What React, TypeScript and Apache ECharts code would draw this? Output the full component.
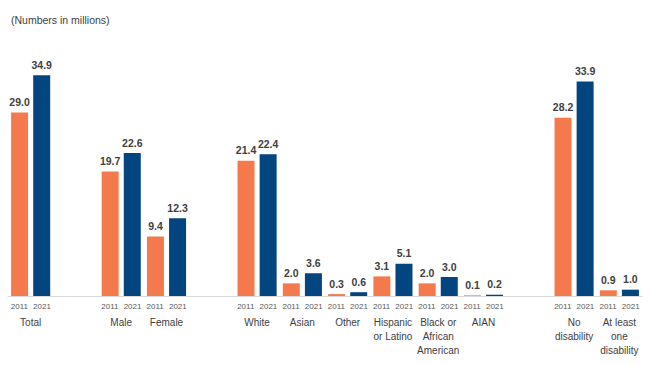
import React, { useEffect, useRef } from "react";
import * as echarts from "echarts";

const groups = ["Total", " ", "Male", "Female", "  ", "White", "Asian", "Other", "Hispanic\nor Latino", "Black or\nAfrican\nAmerican", "AIAN", "   ", "No\ndisability", "At least\none\ndisability"];
const values2011 = [29.0, null, 19.7, 9.4, null, 21.4, 2.0, 0.3, 3.1, 2.0, 0.1, null, 28.2, 0.9];
const values2021 = [34.9, null, 22.6, 12.3, null, 22.4, 3.6, 0.6, 5.1, 3.0, 0.2, null, 33.9, 1.0];
const yearLabels = ["2011", "2021"];

const ORANGE = "#F47A4D";
const BLUE = "#03457F";
const FONT = "'Liberation Sans', Arial, sans-serif";

export default function App() {
  const ref = useRef<HTMLDivElement>(null);
  useEffect(() => {
    document.body.style.margin = "0";
    if (!ref.current) return;
    const chart = echarts.init(ref.current, undefined, { renderer: "svg" });
    const yearAxisData: string[] = [];
    groups.forEach((g, i) => {
      const empty = values2011[i] === null && values2021[i] === null;
      yearAxisData.push(empty ? "" : yearLabels[0]);
      yearAxisData.push(empty ? "" : yearLabels[1]);
    });
    const label = {
      show: true,
      position: "top" as const,
      distance: 5,
      color: "#404040",
      fontSize: 10.5,
      fontWeight: "bold" as const,
      fontFamily: FONT,
      formatter: (p: any) => (p.value == null ? "" : Number(p.value).toFixed(1)),
    };
    chart.setOption({
      animation: false,
      textStyle: { fontFamily: FONT },
      title: {
        text: "(Numbers in millions)",
        left: 6,
        top: 9,
        textStyle: { fontSize: 10.5, fontWeight: "normal", color: "#404040", fontFamily: FONT },
      },
      grid: { left: 8, right: 8, top: 43, bottom: 69, containLabel: false },
      xAxis: [
        {
          type: "category",
          data: groups,
          position: "bottom",
          axisLine: { show: true, lineStyle: { color: "#D9D9D9", width: 1 } },
          axisTick: { show: false },
          axisLabel: {
            interval: 0,
            margin: 20,
            fontSize: 10,
            lineHeight: 13.7,
            color: "#404040",
            fontFamily: FONT,
          },
        },
        {
          type: "category",
          data: yearAxisData,
          position: "bottom",
          offset: 0,
          axisLine: { show: false },
          axisTick: { show: false },
          axisLabel: {
            interval: 0,
            margin: 6,
            fontSize: 8,
            color: "#595959",
            fontFamily: FONT,
          },
        },
      ],
      yAxis: { type: "value", min: 0, max: 40, show: false, splitLine: { show: false } },
      series: [
        {
          type: "bar",
          name: "2011",
          xAxisIndex: 0,
          data: values2011,
          barWidth: 17,
          barGap: "30%",
          itemStyle: { color: ORANGE },
          label,
        },
        {
          type: "bar",
          name: "2021",
          xAxisIndex: 0,
          data: values2021,
          barWidth: 17,
          barGap: "30%",
          itemStyle: { color: BLUE },
          label,
        },
      ],
    });
    return () => chart.dispose();
  }, []);
  return <div ref={ref} style={{ width: 650, height: 365 }} />;
}
